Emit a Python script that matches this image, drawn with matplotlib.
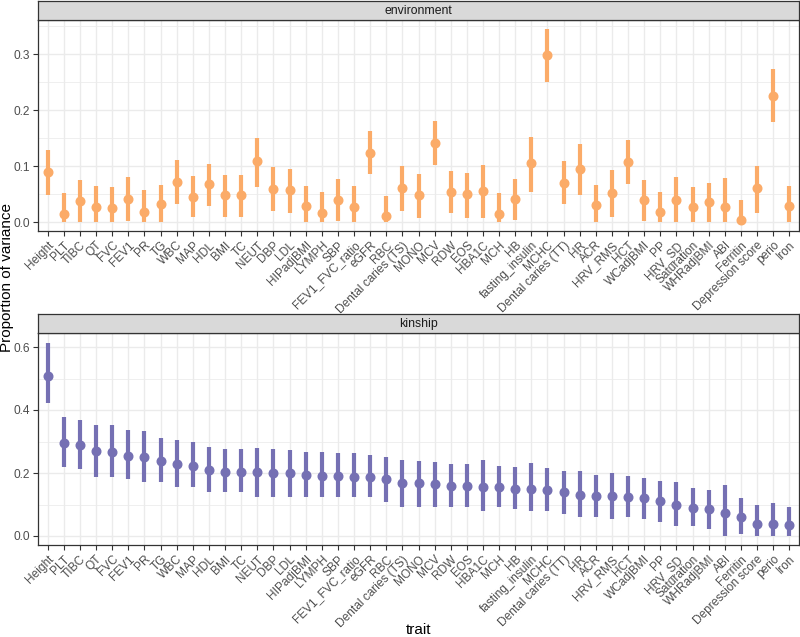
import matplotlib.pyplot as plt
import numpy as np

plt.rcParams["font.family"] = ["Liberation Sans", "DejaVu Sans"]

traits = ["Height", "PLT", "TIBC", "QT", "FVC", "FEV1", "PR", "TG", "WBC", "MAP",
          "HDL", "BMI", "TC", "NEUT", "DBP", "LDL", "HIPadjBMI", "LYMPH", "SBP",
          "FEV1_FVC_ratio", "eGFR", "RBC", "Dental caries (TS)", "MONO", "MCV", "RDW",
          "EOS", "HBA1C", "MCH", "HB", "fasting_insulin", "MCHC", "Dental caries (TT)",
          "HR", "ACR", "HRV_RMS", "HCT", "WCadjBMI", "PP", "HRV_SD", "Saturation",
          "WHRadjBMI", "ABI", "Ferritin", "Depression score", "perio", "Iron"]

env_est = [0.090, 0.015, 0.038, 0.027, 0.025, 0.041, 0.018, 0.032, 0.072, 0.045,
           0.068, 0.049, 0.049, 0.109, 0.060, 0.058, 0.030, 0.017, 0.039,
           0.028, 0.124, 0.011, 0.062, 0.049, 0.141, 0.054,
           0.050, 0.056, 0.015, 0.041, 0.106, 0.298, 0.071,
           0.095, 0.031, 0.052, 0.108, 0.040, 0.019, 0.039, 0.027,
           0.036, 0.028, 0.004, 0.062, 0.225, 0.030]
env_lo = [0.048, 0.000, 0.000, 0.000, 0.000, 0.003, 0.000, 0.000, 0.032, 0.009,
          0.029, 0.009, 0.009, 0.063, 0.021, 0.017, 0.000, 0.000, 0.003,
          0.000, 0.086, 0.000, 0.020, 0.008, 0.102, 0.016,
          0.008, 0.008, 0.000, 0.004, 0.055, 0.251, 0.032,
          0.048, 0.000, 0.009, 0.068, 0.003, 0.000, 0.000, 0.000,
          0.000, 0.000, 0.000, 0.016, 0.180, 0.000]
env_hi = [0.129, 0.052, 0.075, 0.065, 0.063, 0.081, 0.057, 0.067, 0.111, 0.082,
          0.104, 0.084, 0.084, 0.151, 0.099, 0.095, 0.065, 0.055, 0.077,
          0.065, 0.163, 0.047, 0.101, 0.086, 0.181, 0.091,
          0.088, 0.102, 0.052, 0.077, 0.152, 0.345, 0.109,
          0.139, 0.067, 0.093, 0.147, 0.075, 0.055, 0.081, 0.063,
          0.071, 0.079, 0.040, 0.101, 0.274, 0.065]

kin_est = [0.509, 0.294, 0.289, 0.270, 0.268, 0.255, 0.252, 0.238, 0.228, 0.223,
           0.210, 0.204, 0.204, 0.203, 0.201, 0.200, 0.194, 0.191, 0.191,
           0.188, 0.186, 0.180, 0.169, 0.167, 0.164, 0.159,
           0.159, 0.157, 0.155, 0.150, 0.149, 0.147, 0.139,
           0.130, 0.128, 0.126, 0.125, 0.120, 0.111, 0.100, 0.090,
           0.086, 0.074, 0.061, 0.039, 0.039, 0.035]
kin_lo = [0.421, 0.218, 0.212, 0.188, 0.188, 0.180, 0.172, 0.172, 0.157, 0.157,
          0.141, 0.141, 0.141, 0.125, 0.125, 0.125, 0.125, 0.125, 0.125,
          0.125, 0.125, 0.109, 0.093, 0.093, 0.093, 0.093,
          0.093, 0.078, 0.093, 0.086, 0.078, 0.078, 0.070,
          0.061, 0.061, 0.055, 0.061, 0.055, 0.046, 0.032, 0.032,
          0.023, 0.000, 0.006, 0.000, 0.000, 0.000]
kin_hi = [0.612, 0.379, 0.368, 0.351, 0.351, 0.336, 0.333, 0.312, 0.304, 0.297,
          0.284, 0.277, 0.277, 0.279, 0.275, 0.273, 0.266, 0.266, 0.264,
          0.264, 0.257, 0.250, 0.241, 0.239, 0.235, 0.228,
          0.229, 0.240, 0.222, 0.219, 0.231, 0.216, 0.207,
          0.206, 0.195, 0.199, 0.190, 0.183, 0.175, 0.170, 0.151,
          0.147, 0.163, 0.122, 0.100, 0.104, 0.091]

W, H = 800, 637
fig = plt.figure(figsize=(W / 100, H / 100), dpi=100)

def px_axes(x0, y0, x1, y1):
    return fig.add_axes([x0 / W, 1 - y1 / H, (x1 - x0) / W, (y1 - y0) / H])

def panel(top, bottom, strip_top, label, est, lo, hi, color, ylim, major, minor):
    ax = px_axes(38, top, 799, bottom)
    x = np.arange(len(traits))
    ax.set_xlim(-0.6, len(traits) - 0.4)
    ax.set_ylim(*ylim)
    for v in minor:
        ax.axhline(v, color="#EBEBEB", lw=0.55, zorder=0)
    for v in major:
        ax.axhline(v, color="#EBEBEB", lw=1.0, zorder=0)
    for xi in x:
        ax.axvline(xi, color="#EBEBEB", lw=1.0, zorder=0)
    ax.vlines(x, lo, hi, color=color, lw=3.0, zorder=2)
    ax.plot(x, est, "o", color=color, ms=6.2, zorder=3)
    ax.set_yticks(major)
    ax.set_yticklabels(["%.1f" % v for v in major])
    ax.set_xticks(x)
    ax.set_xticklabels(traits, rotation=45, ha="right", va="top",
                       rotation_mode="anchor")
    ax.tick_params(axis="both", colors="#333333", labelcolor="#4D4D4D",
                   labelsize=8.6, length=3.5, width=0.8, pad=2.5)
    ax.tick_params(axis="y", pad=2.0)
    for s in ax.spines.values():
        s.set_color("#333333")
        s.set_linewidth(0.9)
    # strip
    st = px_axes(38, strip_top, 799, top)
    st.set_facecolor("#D9D9D9")
    st.set_xticks([])
    st.set_yticks([])
    for s in st.spines.values():
        s.set_color("#333333")
        s.set_linewidth(0.9)
    st.text(0.5, 0.5, label, ha="center", va="center", fontsize=8.8,
            color="#1A1A1A", transform=st.transAxes)
    return ax

ax1 = panel(20, 231, 1, "environment", env_est, env_lo, env_hi, "#FBAB68",
            ((222.3 - 231) / 560, (222.3 - 20) / 560),
            [0.0, 0.1, 0.2, 0.3], [0.05, 0.15, 0.25, 0.35])
ax2 = panel(333, 545, 314, "kinship", kin_est, kin_lo, kin_hi, "#7570B3",
            ((536 - 545) / 315, (536 - 333) / 315),
            [0.0, 0.2, 0.4, 0.6], [0.1, 0.3, 0.5])

fig.text(7 / W, 1 - 278 / H, "Proportion of variance", rotation=90,
         ha="center", va="center", fontsize=11, color="black")
fig.text(418.5 / W, 1 - 630 / H, "trait", ha="center", va="center",
         fontsize=11, color="black")

fig.savefig("out.png", dpi=100)
